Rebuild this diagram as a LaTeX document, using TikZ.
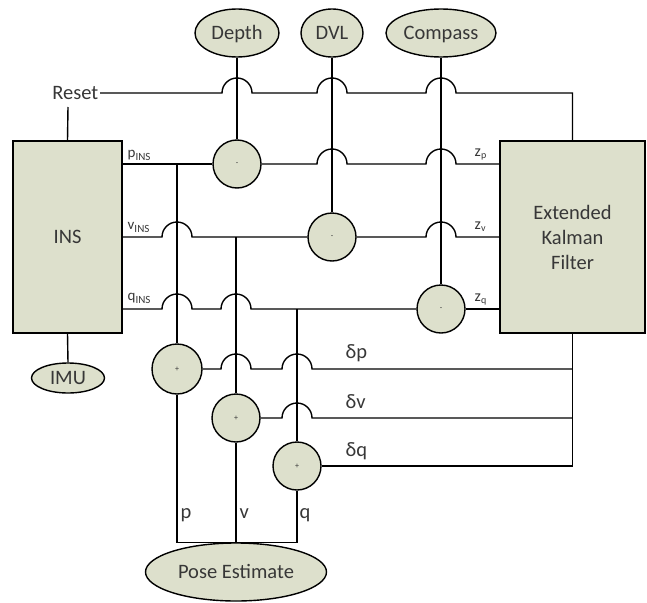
\documentclass[tikz,border=0pt]{standalone}
\usepackage{fontspec}
\setmainfont{Carlito}
\usetikzlibrary{shapes.geometric,calc}
\definecolor{boxfill}{RGB}{221,224,204}
\definecolor{txt}{RGB}{55,55,55}
\begin{document}
\begin{tikzpicture}[x=1pt,y=-1pt, line width=1.4pt,
  every node/.style={text=txt, font=\fontsize{20.5}{25}\selectfont},
  blk/.style={draw, fill=boxfill, rectangle, inner sep=0pt},
  ell/.style={draw, fill=boxfill, ellipse, inner sep=0pt, text height=13.2pt, text depth=0pt},
  sumc/.style={draw, fill=boxfill, circle, minimum size=48pt, inner sep=0pt, font=\fontsize{8}{8}\selectfont},
  lbl/.style={inner sep=0pt},
  sublbl/.style={inner sep=0pt, font=\fontsize{15}{15}\selectfont},
  jmp/.style 2 args={insert path={-- (#1-15,#2) arc[start angle=180,end angle=0,radius=15pt]}}
]
\useasboundingbox (0,0) rectangle (647,602);
% nodes
\node[ell, minimum width=84pt, minimum height=48pt] (depth) at (237,33) {Depth};
\node[ell, minimum width=62pt, minimum height=48pt] (dvl) at (332,33) {DVL};
\node[ell, minimum width=110pt, minimum height=48pt] (compass) at (441,33) {Compass};
\node[lbl, anchor=east, inner sep=1pt, text height=13.2pt, text depth=0pt] (reset) at (100,93) {Reset};
\node[blk, minimum width=109pt, minimum height=192pt, text height=13.2pt, text depth=0pt] (ins) at (67.5,237) {INS};
\node[blk, minimum width=145pt, minimum height=192pt, align=center] (ekf) at (572.5,237) {Extended\\Kalman\\Filter};
\node[ell, minimum width=73pt, minimum height=30pt] (imu) at (68,378) {IMU};
\node[ell, minimum width=181pt, minimum height=58pt] (pose) at (236,572) {Pose Estimate};
\node[sumc] (m1) at (237,164) {-};
\node[sumc] (m2) at (332,237) {-};
\node[sumc] (m3) at (441,309) {-};
\node[sumc, minimum size=50pt] (a1) at (177,369) {+};
\node[sumc] (a2) at (236,418) {+};
\node[sumc] (a3) at (297,466) {+};
\coordinate (rs) at (68,107);
% connectors
\draw (reset.east) [jmp={237}{93}] [jmp={332}{93}] [jmp={441}{93}] -- (ekf.north |- reset.east) -- (ekf.north);
\draw (ins.north) -- (rs);
\draw (ins.south) -- (imu.north);
\draw (depth.south) -- (m1.north);
\draw (dvl.south) -- (m2.north);
\draw (compass.south) -- (m3.north);
\draw (ins.east |- m1) -- (m1.west);
\draw (m1.east) [jmp={332}{164}] [jmp={441}{164}] -- (ekf.west |- m1);
\draw (a1.north |- m1) -- (a1.north);
\draw (ins.east |- m2) [jmp={177}{237}] -- (m2.west);
\draw (m2.east) [jmp={441}{237}] -- (ekf.west |- m2);
\draw (a2.north |- m2) -- (a2.north);
\draw (ins.east |- m3) [jmp={177}{309}] [jmp={236}{309}] -- (m3.west);
\draw (m3.east) -- (ekf.west |- m3);
\draw (a3.north |- m3) -- (a3.north);
\draw (ekf.south) -- (ekf.south |- a3);
\draw (a1.east) [jmp={236}{369}] [jmp={297}{369}] -- (ekf.south |- a1);
\draw (a2.east) [jmp={297}{418}] -- (ekf.south |- a2);
\draw (a3.east) -- (ekf.south |- a3);
\draw (a1.south) -- (a1.south |- pose.north) -- (a3.south |- pose.north) -- (a3.south);
\draw (a2.south) -- (pose.north);
% labels
\node[sublbl, anchor=base west] (lpins) at (127,157) {p\raisebox{-3pt}{\fontsize{11}{11}\selectfont INS}};
\node[sublbl, anchor=base west] (lvins) at (127,229) {v\raisebox{-3pt}{\fontsize{11}{11}\selectfont INS}};
\node[sublbl, anchor=base west] (lqins) at (127,300) {q\raisebox{-3pt}{\fontsize{11}{11}\selectfont INS}};
\node[sublbl, anchor=base west, font=\fontsize{16}{16}\selectfont] (lzp) at (474,156) {z\raisebox{-2pt}{\fontsize{10}{10}\selectfont p}};
\node[sublbl, anchor=base west, font=\fontsize{16}{16}\selectfont] (lzv) at (474,229) {z\raisebox{-2pt}{\fontsize{10}{10}\selectfont v}};
\node[sublbl, anchor=base west, font=\fontsize{16}{16}\selectfont] (lzq) at (474,301) {z\raisebox{-2pt}{\fontsize{10}{10}\selectfont q}};
\node[lbl, anchor=base west] (ldp) at (345,358) {δp};
\node[lbl, anchor=base west] (ldv) at (345,408) {δv};
\node[lbl, anchor=base west] (ldq) at (345,456) {δq};
\node[lbl, anchor=base west] (lp) at (180,518) {p};
\node[lbl, anchor=base west] (lv) at (239,518) {v};
\node[lbl, anchor=base west] (lq) at (299,518) {q};
\end{tikzpicture}
\end{document}
